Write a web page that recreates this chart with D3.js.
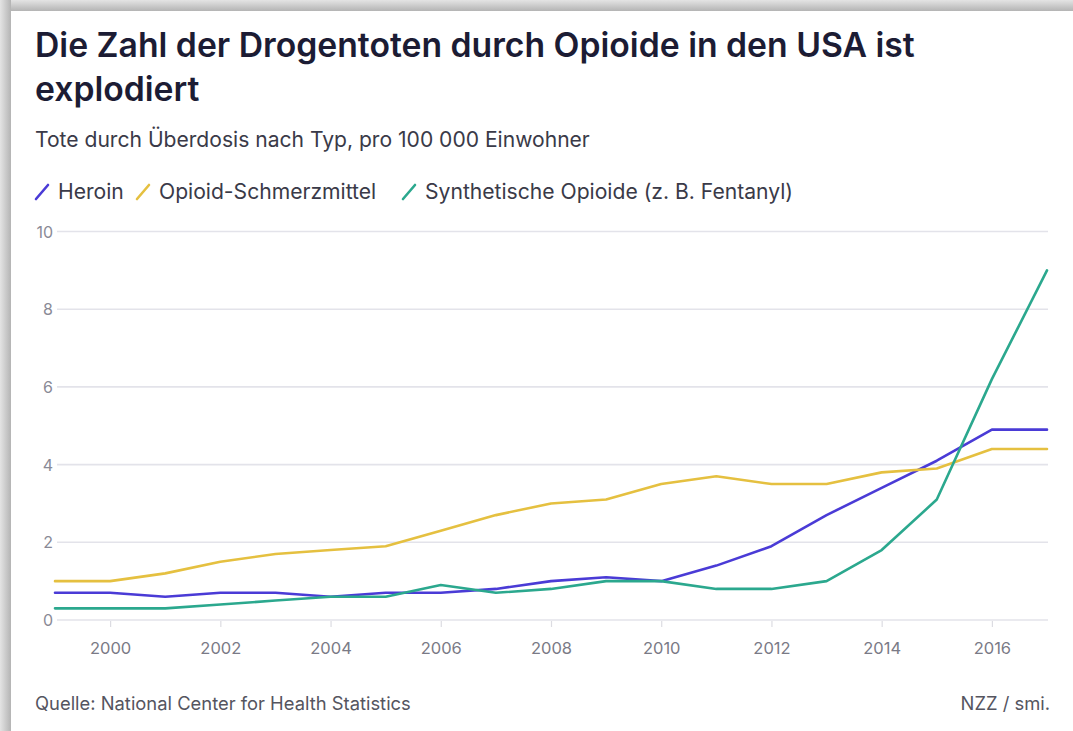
<!DOCTYPE html>
<html>
<head>
<meta charset="utf-8">
<script src="https://cdn.jsdelivr.net/npm/d3@7"></script>
<style>
  html, body { margin: 0; padding: 0; width: 1073px; height: 731px; overflow: hidden; background: #fff; }
  svg { position: absolute; left: 0; top: 0; display: block; }
  text { font-family: Inter, Roboto, "Noto Sans", sans-serif; }
</style>
</head>
<body>
<svg id="chart" width="1073" height="731"></svg>
<script>
const years = [1999,2000,2001,2002,2003,2004,2005,2006,2007,2008,2009,2010,2011,2012,2013,2014,2015,2016,2017];
const heroin = [0.7,0.7,0.6,0.7,0.7,0.6,0.7,0.7,0.8,1.0,1.1,1.0,1.4,1.9,2.7,3.4,4.1,4.9,4.9];
const painkillers = [1.0,1.0,1.2,1.5,1.7,1.8,1.9,2.3,2.7,3.0,3.1,3.5,3.7,3.5,3.5,3.8,3.9,4.4,4.4];
const synthetic = [0.3,0.3,0.3,0.4,0.5,0.6,0.6,0.9,0.7,0.8,1.0,1.0,0.8,0.8,1.0,1.8,3.1,6.2,9.0];
const seriesNames = ["Heroin", "Opioid-Schmerzmittel", "Synthetische Opioide (z. B. Fentanyl)"];
const seriesColors = ["#4a3bd6", "#e5c040", "#2ba88e"];
const yTicks = [0,2,4,6,8,10];
const xTicks = [2000,2002,2004,2006,2008,2010,2012,2014,2016];
const titleLines = ["Die Zahl der Drogentoten durch Opioide in den USA ist", "explodiert"];
const subtitle = "Tote durch Überdosis nach Typ, pro 100 000 Einwohner";
const sourceText = "Quelle: National Center for Health Statistics";
const creditText = "NZZ / smi.";

const svg = d3.select("#chart");

// card shadow (top and left edges)
const defs = svg.append("defs");
const gTop = defs.append("linearGradient").attr("id", "gTop").attr("x1", 0).attr("y1", 0).attr("x2", 0).attr("y2", 1);
gTop.append("stop").attr("offset", "0%").attr("stop-color", "#e4e4e4");
gTop.append("stop").attr("offset", "100%").attr("stop-color", "#b4b4b4");
const gLeft = defs.append("linearGradient").attr("id", "gLeft").attr("x1", 0).attr("y1", 0).attr("x2", 1).attr("y2", 0);
gLeft.append("stop").attr("offset", "0%").attr("stop-color", "#e4e4e4");
gLeft.append("stop").attr("offset", "100%").attr("stop-color", "#b4b4b4");
svg.append("rect").attr("x", 0).attr("y", 0).attr("width", 1073).attr("height", 11).attr("fill", "url(#gTop)");
svg.append("rect").attr("x", 0).attr("y", 0).attr("width", 11).attr("height", 731).attr("fill", "url(#gLeft)");
svg.append("rect").attr("x", 11).attr("y", 11).attr("width", 1062).attr("height", 720).attr("fill", "#fff");

function fit(sel, target) {
  const w = sel.node().getComputedTextLength();
  const fs = parseFloat(sel.attr("font-size"));
  sel.attr("font-size", (fs * target / w).toFixed(2));
}

// Title
const t1 = svg.append("text").attr("x", 35).attr("y", 57).attr("font-size", 32)
  .attr("font-weight", 600).attr("fill", "#1c1c34").text(titleLines[0]);
fit(t1, 880);
const fsT = t1.attr("font-size");
svg.append("text").attr("x", 35).attr("y", 101).attr("font-size", fsT)
  .attr("font-weight", 600).attr("fill", "#1c1c34").text(titleLines[1]);

// Subtitle
const st = svg.append("text").attr("x", 35).attr("y", 147).attr("font-size", 18)
  .attr("fill", "#3a3a48").text(subtitle);
fit(st, 555);

// Legend
const probe = svg.append("text").attr("font-size", 18).text(seriesNames[2]);
fit(probe, 368);
const legFs = probe.attr("font-size");
probe.remove();
const legX = [35, 136, 402];
const ly = 199;
seriesNames.forEach((n, i) => {
  const lx = legX[i];
  svg.append("line").attr("x1", lx + 1).attr("y1", ly).attr("x2", lx + 13).attr("y2", ly - 14)
    .attr("stroke", seriesColors[i]).attr("stroke-width", 2.6).attr("stroke-linecap", "round");
  svg.append("text").attr("x", lx + 23).attr("y", ly).attr("font-size", legFs)
    .attr("fill", "#3a3a48").text(n);
});

// Scales
const x = d3.scaleLinear().domain([1999, 2017]).range([55, 1047]);
const y = d3.scaleLinear().domain([0, 10]).range([620, 231.5]);

// Grid
svg.append("g").selectAll("line").data(yTicks).join("line")
  .attr("x1", 57).attr("x2", 1048)
  .attr("y1", d => y(d)).attr("y2", d => y(d))
  .attr("stroke", "#e3e3ea").attr("stroke-width", 1.6);

// Y axis labels
const yAxis = d3.axisLeft(y).tickValues(yTicks).tickSize(0).tickPadding(0).tickFormat(d3.format("d"));
const ya = svg.append("g").attr("transform", "translate(53,0)").call(yAxis);
ya.select(".domain").remove();
ya.selectAll("text").attr("font-size", 16).attr("fill", "#8a8a96")
  .attr("font-family", "Inter, Roboto, sans-serif").attr("dy", "0.35em");

// X axis
const xAxis = d3.axisBottom(x).tickValues(xTicks).tickSize(6).tickPadding(15).tickFormat(d3.format("d"));
const xa = svg.append("g").attr("transform", "translate(0,621)").call(xAxis);
xa.select(".domain").remove();
xa.selectAll("line").attr("stroke", "#dcdce2").attr("stroke-width", 1.2);
xa.selectAll("text").attr("font-size", 16.5).attr("fill", "#7a7a86")
  .attr("font-family", "Inter, Roboto, sans-serif");

// Lines
const data = [heroin, painkillers, synthetic];
const line = d3.line().x((d, i) => x(years[i])).y(d => y(d));
svg.append("g").selectAll("path").data(data).join("path")
  .attr("d", d => line(d))
  .attr("fill", "none")
  .attr("stroke", (d, i) => seriesColors[i])
  .attr("stroke-width", 2.6)
  .attr("stroke-linejoin", "round")
  .attr("stroke-linecap", "round");

// Footer
const src = svg.append("text").attr("x", 35).attr("y", 710).attr("font-size", 16)
  .attr("fill", "#55555f").text(sourceText);
fit(src, 376);
svg.append("text").attr("x", 1050).attr("y", 710).attr("font-size", src.attr("font-size"))
  .attr("text-anchor", "end").attr("fill", "#55555f").text(creditText);
</script>
</body>
</html>
